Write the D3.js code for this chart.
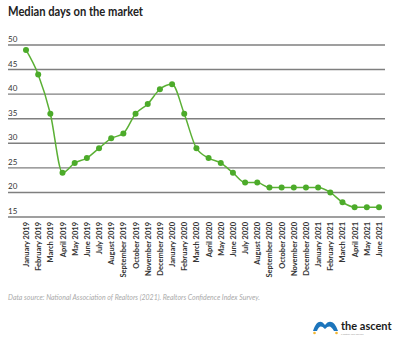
<!DOCTYPE html>
<html>
<head>
<meta charset="utf-8">
<script src="https://cdn.jsdelivr.net/npm/d3@7"></script>
<style>
  body { margin: 0; background: #fff; }
  svg { display: block; font-family: Lato, "Open Sans", sans-serif; }
</style>
</head>
<body>
<svg id="chart"></svg>
<script>
const months = ["January 2019","February 2019","March 2019","April 2019","May 2019","June 2019",
  "July 2019","August 2019","September 2019","October 2019","November 2019","December 2019",
  "January 2020","February 2020","March 2020","April 2020","May 2020","June 2020",
  "July 2020","August 2020","September 2020","October 2020","November 2020","December 2020",
  "January 2021","February 2021","March 2021","April 2021","May 2021","June 2021"]
const days = [49,44,36,24,26,27,29,31,32,36,38,41,42,36,29,27,26,24,22,22,21,21,21,21,21,20,18,17,17,17]
const yTicks = [15,20,25,30,35,40,45,50]

const width = 400, height = 344
const svg = d3.select("#chart").attr("width", width).attr("height", height)

const x = d3.scalePoint().domain(months).range([26, 379])
const y = d3.scaleLinear().domain([15, 50]).range([217, 45])

// squeeze title to the reference width
svg.append("text")
    .attr("x", 8).attr("y", 15.5)
    .attr("textLength", 135).attr("lengthAdjust", "spacingAndGlyphs")
    .style("font-size", "13px").style("font-weight", "bold").attr("fill", "#222")
    .text("Median days on the market")

// grid + labels
const grid = svg.append("g")
grid.selectAll("line").data(yTicks).enter().append("line")
    .attr("x1", 8).attr("x2", 385)
    .attr("y1", d => y(d)).attr("y2", d => y(d))
    .attr("stroke", "#7f7f7f").attr("stroke-width", 1.4)
grid.selectAll("text").data(yTicks).enter().append("text")
    .attr("x", 8).attr("y", d => y(d) - 3)
    .style("font-size", "8px").attr("fill", "#333")
    .text(d => d)

// x labels
svg.append("g").selectAll("text").data(months).enter().append("text")
    .attr("transform", d => `translate(${x(d) + 3},222) rotate(-90)`)
    .attr("text-anchor", "end")
    .style("font-size", "7.5px").style("font-weight", "bold").attr("fill", "#333")
    .text(d => d)

const line = d3.line()
    .x((d, i) => x(months[i]))
    .y(d => y(d))
    .curve(d3.curveMonotoneX)

svg.append("path").datum(days)
    .attr("d", line)
    .attr("fill", "none").attr("stroke", "#5bb035").attr("stroke-width", 1.5)

svg.append("g").selectAll("circle").data(days).enter().append("circle")
    .attr("cx", (d, i) => x(months[i])).attr("cy", d => y(d))
    .attr("r", 3).attr("fill", "#4cab2a")

svg.append("text")
    .attr("x", 8).attr("y", 300)
    .attr("textLength", 252).attr("lengthAdjust", "spacingAndGlyphs")
    .style("font-size", "7.5px").style("font-style", "italic").attr("fill", "#aaa")
    .text("Data source: National Association of Realtors (2021). Realtors Confidence Index Survey.")

// logo
const logo = svg.append("g").attr("transform", "translate(313,317)")
logo.append("path")
    .attr("d", "M0,14 C3,4 8,2 12,8 C16,2 22,4 25,14 L21,14 C18,9 16,8 12,12 C8,8 6,9 4,14 Z")
    .attr("fill", "#1c75bc")
logo.append("circle").attr("cx", 1.5).attr("cy", 16).attr("r", 1.3).attr("fill", "#f2b632")
logo.append("circle").attr("cx", 23.5).attr("cy", 16).attr("r", 1.3).attr("fill", "#f2b632")
logo.append("text")
    .attr("x", 28).attr("y", 12.5)
    .style("font-size", "11px").style("font-weight", "bold").attr("fill", "#1a1a1a")
    .text("the ascent")
logo.append("text")
    .attr("x", 28).attr("y", 17.5)
    .style("font-size", "2.5px").attr("fill", "#999")
    .text("a motley fool service")
</script>
</body>
</html>
